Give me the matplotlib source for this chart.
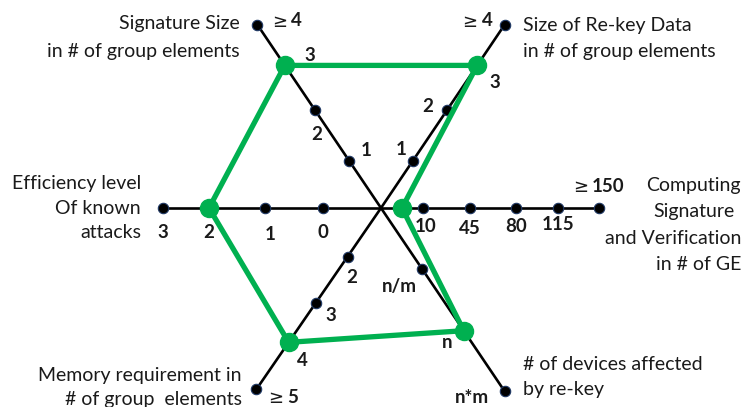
import numpy as np
import matplotlib
matplotlib.use("Agg")
import matplotlib.pyplot as plt

plt.rcParams['font.family'] = ['Lato', 'DejaVu Sans']

# ---- data: the six criteria, their tick labels and the scheme's scores ----
sig_ticks = [1, 2, 3, 4]
sig_labels = ["1", "2", "3", "\u2265 4"]
rekey_ticks = [1, 2, 3, 4]
rekey_labels = ["1", "2", "3", "\u2265 4"]
cmp_ticks = [10, 45, 80, 115, 150]
cmp_labels = ["10", "45", "80", "115", "\u2265 150"]
dev_ticks = [1, 2, 3]
dev_labels = ["n/m", "n", "n*m"]
mem_ticks = [2, 3, 4, 5]
mem_labels = ["2", "3", "4", "\u2265 5"]
eff_ticks = [0, 1, 2, 3]
eff_labels = ["0", "1", "2", "3"]

# score of the scheme on each axis (devices: index of "n")
scheme = [3, 3, 5, 2, 4, 2]

# ---- layout ----
cx, cy = 381, 208
angles = [124, 56, 0, -56, -124.5, 180]
tick_r = [
    [57, 118, 172, 221],
    [57, 118, 172, 221],
    [42, 89, 135, 177, 218],
    [73, 148, 221],
    [59, 115, 163, 220],
    [58, 116, 172, 218],
]
# label offsets (px, y down) from each tick dot
label_off = [
    [(17, -10), (2, 24), (25, -10), (33, -4)],
    [(-12, -11), (-19, -4), (18, 17), (-24, -4)],
    [(3, 19), (0, 20), (0, 19), (0, 17), (-8, -22)],
    [(-22, 18), (-17, 12), (-33, 6)],
    [(4, 21), (15, 13), (14, 18), (30, 8)],
    [(0, 25), (5, 27), (0, 25), (0, 25)],
]
ticks = [sig_ticks, rekey_ticks, cmp_ticks, dev_ticks, mem_ticks, eff_ticks]
labels = [sig_labels, rekey_labels, cmp_labels, dev_labels, mem_labels, eff_labels]

green = '#00B050'
txt = '#1a1a1a'


def pos(a, r):
    t = np.deg2rad(a)
    return cx + r * np.cos(t), cy - r * np.sin(t)


fig = plt.figure(figsize=(7.42, 4.07), dpi=100)
ax = fig.add_axes([0, 0, 1, 1])
ax.set_xlim(0, 742)
ax.set_ylim(407, 0)
ax.axis('off')

# axes + tick dots + tick labels
for a, rs, labs, offs in zip(angles, tick_r, labels, label_off):
    ex, ey = pos(a, rs[-1])
    ax.plot([cx, ex], [cy, ey], color='black', lw=1.9, zorder=1)
    xs, ys = zip(*[pos(a, r) for r in rs])
    ax.plot(xs, ys, 'o', ms=7.5, color='black', mec='#1F3864', mew=0.8, zorder=2)
    for x, y, lab, (dx, dy) in zip(xs, ys, labs, offs):
        if lab.startswith('\u2265'):
            ax.text(x + dx - 3, y + dy + 1, '\u2265', ha='right', va='center',
                    fontsize=13, color=txt, family=['DejaVu Sans'])
            ax.text(x + dx + 1, y + dy, lab[2:], ha='left', va='center',
                    fontsize=13.5, fontweight='bold', color=txt)
        else:
            ax.text(x + dx, y + dy, lab, ha='center', va='center',
                    fontsize=13.5, fontweight='bold', color=txt)

# scheme polygon
pts = []
for a, tk, rs, v in zip(angles, ticks, tick_r, scheme):
    r = np.interp(v, [0] + list(tk), [0] + list(rs))
    pts.append(pos(a, r))
pts.append(pts[0])
px, py = zip(*pts)
ax.plot(px, py, color=green, lw=3.8, zorder=3, solid_joinstyle='round')
ax.plot(px[:-1], py[:-1], 'o', ms=13, color=green, zorder=4)

# axis titles
fs = 14
ax.text(240, 24, "Signature Size", ha='right', va='center', fontsize=fs, color=txt)
ax.text(240, 52, "in # of group elements", ha='right', va='center', fontsize=fs, color=txt)
ax.text(523, 25, "Size of Re-key Data", ha='left', va='center', fontsize=fs, color=txt)
ax.text(523, 52, "in # of group elements", ha='left', va='center', fontsize=fs, color=txt)
ax.text(741, 186, "Computing", ha='right', va='center', fontsize=fs, color=txt)
ax.text(735, 212, "Signature", ha='right', va='center', fontsize=fs, color=txt)
ax.text(741, 238, "and Verification", ha='right', va='center', fontsize=fs, color=txt)
ax.text(741, 264, "in # of GE", ha='right', va='center', fontsize=fs, color=txt)
ax.text(141, 183, "Efficiency level", ha='right', va='center', fontsize=fs, color=txt)
ax.text(141, 208, "Of known", ha='right', va='center', fontsize=fs, color=txt)
ax.text(141, 233, "attacks", ha='right', va='center', fontsize=fs, color=txt)
ax.text(242, 376, "Memory requirement in", ha='right', va='center', fontsize=fs, color=txt)
ax.text(242, 399, "# of group  elements", ha='right', va='center', fontsize=fs, color=txt)
ax.text(523, 365, "# of devices affected", ha='left', va='center', fontsize=fs, color=txt)
ax.text(523, 390, "by re-key", ha='left', va='center', fontsize=fs, color=txt)

fig.savefig('out.png', dpi=100)
